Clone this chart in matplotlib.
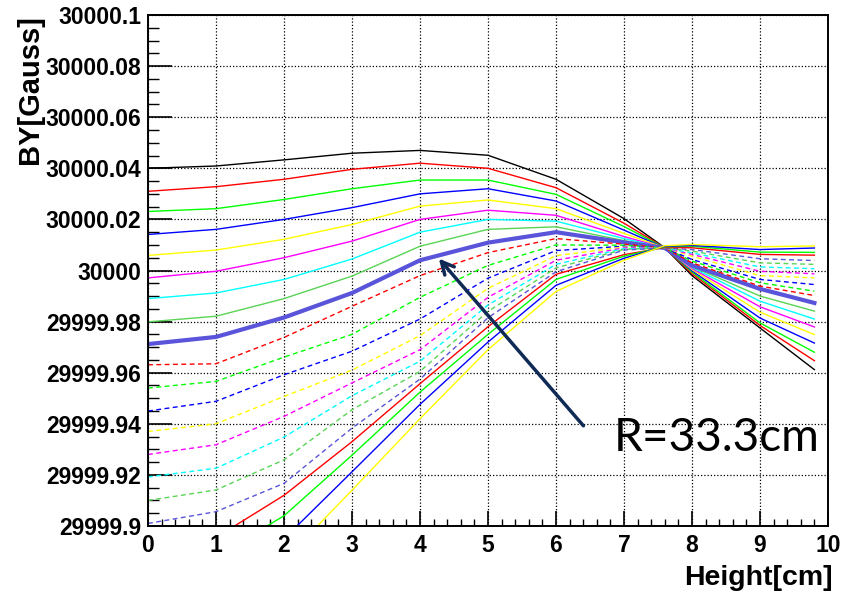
import matplotlib
matplotlib.use("Agg")
import matplotlib.pyplot as plt
from matplotlib.ticker import MultipleLocator, FuncFormatter

# BY field (Gauss) vs height, one curve per radius
BASE = 30000.0
height = [0, 1, 2, 3, 4, 5, 6, 7, 7.6, 8, 9, 9.8]

# offsets from 30000 G
solid_top = {
    "black":   [.0400, .0409, .0433, .0459, .0470, .0451, .0357, .0203, .0089, -.0020, -.0225, -.0388],
    "red":     [.0310, .0328, .0357, .0396, .0420, .0400, .0324, .0185, .0089, -.0012, -.0215, -.0353],
    "green":   [.0231, .0242, .0278, .0320, .0354, .0354, .0298, .0172, .0089, -.0006, -.0205, -.0320],
    "blue":    [.0141, .0161, .0200, .0246, .0300, .0320, .0272, .0158, .0089, -.0001, -.0186, -.0284],
    "yellow":  [.0059, .0080, .0122, .0180, .0252, .0276, .0242, .0145, .0089, .0004, -.0163, -.0251],
    "magenta": [-.0029, -.0003, .0050, .0115, .0200, .0236, .0216, .0133, .0088, .0008, -.0142, -.0221],
    "cyan":    [-.0110, -.0088, -.0035, .0045, .0150, .0200, .0193, .0125, .0088, .0012, -.0120, -.0190],
    "lgreen":  [-.0201, -.0179, -.0110, -.0022, .0095, .0161, .0171, .0117, .0088, .0016, -.0100, -.0159],
}
r_33 = [-.0288, -.0260, -.0184, -.0088, .0040, .0109, .0150, .0110, .0088, .0020, -.0072, -.0127]

dashed = {
    "red":     [-.0369, -.0365, -.0262, -.0140, -.0020, .0070, .0125, .0103, .0088, .0030, -.0061, -.0098],
    "green":   [-.0460, -.0434, -.0339, -.0250, -.0105, .0020, .0100, .0099, .0088, .0037, -.0048, -.0081],
    "blue":    [-.0550, -.0512, -.0408, -.0316, -.0190, -.0030, .0078, .0095, .0088, .0043, -.0035, -.0055],
    "yellow":  [-.0630, -.0600, -.0493, -.0390, -.0255, -.0070, .0058, .0092, .0088, .0056, -.0020, -.0029],
    "magenta": [-.0720, -.0682, -.0571, -.0440, -.0310, -.0105, .0040, .0089, .0088, .0063, -.0003, -.0013],
    "cyan":    [-.0808, -.0774, -.0652, -.0490, -.0355, -.0135, .0024, .0086, .0088, .0069, .0014, .0007],
    "lgreen":  [-.0900, -.0859, -.0741, -.0545, -.0395, -.0160, .0010, .0083, .0088, .0076, .0030, .0024],
    "violet":  [-.0990, -.0944, -.0833, -.0617, -.0425, -.0185, -.0005, .0080, .0088, .0082, .0046, .0039],
}

solid_low = {
    "red":    [-.1080, -.1045, -.0880, -.0670, -.0443, -.0220, -.0015, .0062, .0090, .0089, .0063, .0060],
    "green":  [-.1160, -.1120, -.0960, -.0723, -.0476, -.0250, -.0035, .0056, .0093, .0095, .0072, .0071],
    "blue":   [-.1240, -.1200, -.1050, -.0788, -.0524, -.0280, -.0058, .0048, .0095, .0098, .0082, .0088],
    "yellow": [-.1320, -.1280, -.1135, -.0860, -.0580, -.0310, -.0082, .0040, .0097, .0102, .0093, .0096],
}

ytick_vals = [29999.9, 29999.92, 29999.94, 29999.96, 29999.98, 30000.0,
              30000.02, 30000.04, 30000.06, 30000.08, 30000.1]

root_col = {"black": "#000000", "red": "#ff0000", "green": "#00ff00", "blue": "#0000ff",
            "yellow": "#ffff00", "magenta": "#ff00ff", "cyan": "#00ffff",
            "lgreen": "#59d454", "violet": "#5954d9"}

fig = plt.figure(figsize=(8.48, 5.94), dpi=100)
ax = fig.add_axes([148/848, 1 - 526/594, 680/848, 511/594])

for name, vals in solid_top.items():
    ax.plot(height, [BASE + v for v in vals], color=root_col[name], lw=1.0)
ax.plot(height, [BASE + v for v in r_33], color=root_col["violet"], lw=3)
for name, vals in dashed.items():
    ax.plot(height, [BASE + v for v in vals], color=root_col[name], lw=1.0, dashes=(3.5, 2.5))
for name, vals in solid_low.items():
    ax.plot(height, [BASE + v for v in vals], color=root_col[name], lw=1.0)

ax.set_xlim(0, 10)
ax.set_ylim(29999.9, 30000.1)
ax.set_yticks(ytick_vals)
ax.yaxis.set_major_formatter(FuncFormatter(lambda v, p: "{:.7g}".format(v)))
ax.xaxis.set_major_locator(MultipleLocator(1))
ax.xaxis.set_minor_locator(MultipleLocator(0.2))
ax.yaxis.set_minor_locator(MultipleLocator(0.005))

ax.grid(which="major", color="black", linestyle=(0, (1, 1.6)), linewidth=0.9)
ax.set_axisbelow(True)
for s in ax.spines.values():
    s.set_linewidth(1.4)

ax.tick_params(axis="y", which="major", direction="in", length=17, width=1.2, pad=5)
ax.tick_params(axis="y", which="minor", direction="in", length=8, width=1.0)
ax.tick_params(axis="x", which="major", direction="in", length=11, width=1.2, pad=6)
ax.tick_params(axis="x", which="minor", direction="in", length=5, width=1.0)

for lab in ax.get_yticklabels() + ax.get_xticklabels():
    lab.set_fontfamily("Liberation Sans")
    lab.set_fontweight("bold")
    lab.set_fontsize(16.5)

ax.set_xlabel("Height[cm]", fontsize=20.5, fontweight="bold",
              family="Liberation Sans", ha="right", va="top")
ax.xaxis.set_label_coords(1.007, -0.076)
ax.set_ylabel("BY[Gauss]", loc="top", fontsize=21, fontweight="bold",
              family="Liberation Sans", labelpad=1)

ax.annotate("", xy=(4.25, BASE + .0055), xytext=(6.43, BASE - .0616),
            arrowprops=dict(arrowstyle="->,head_length=0.9,head_width=0.45",
                            color="#0f2a55", lw=2.5))
ax.text(6.85, BASE - .0655, "R=33.3cm", fontsize=33, family="Lato",
        va="center", ha="left", color="black")

fig.savefig("out.png", dpi=100)
